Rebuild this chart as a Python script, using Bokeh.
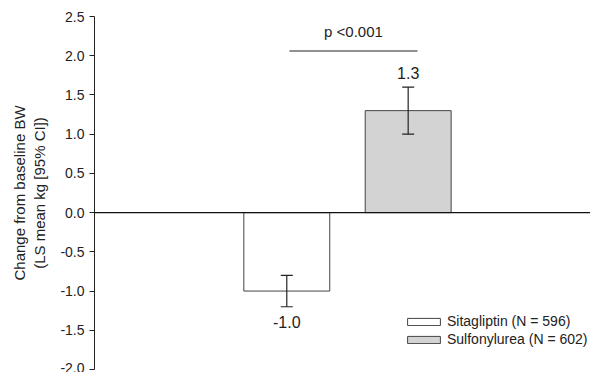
from bokeh.plotting import figure
from bokeh.models import (ColumnDataSource, Span, Whisker, TeeHead, FixedTicker,
                          PrintfTickFormatter, Legend, LegendItem, Range1d)
from bokeh.core.properties import value
from bokeh.embed import file_html
from bokeh.resources import INLINE

# ---- data ----
groups = ["Sitagliptin (N = 596)", "Sulfonylurea (N = 602)"]
group_x = [1, 2]
means = [-1.0, 1.3]
ci_lower = [-1.2, 1.0]
ci_upper = [-0.8, 1.6]
mean_labels = ["-1.0", "1.3"]
label_y = [-1.40, 1.78]
fills = ["#ffffff", "#d3d3d3"]
y_ticks = [-2.0, -1.5, -1.0, -0.5, 0.0, 0.5, 1.0, 1.5, 2.0, 2.5]
y_title = "Change from baseline BW\n(LS mean kg [95% CI])"
p_text = "p <0.001"
p_line_x = [1.022, 2.077]
p_line_y = 2.06
p_text_y = 2.31

FONT = "Liberation Sans"
TXT = "#222222"

src = ColumnDataSource(dict(x=group_x, top=means, lo=ci_lower, hi=ci_upper,
                            fill=fills, lab=mean_labels, ly=label_y))

p = figure(width=590, height=372, output_backend="svg", toolbar_location=None,
           x_range=Range1d(-0.584, 3.502), y_range=Range1d(-2.0, 2.5),
           x_axis_location=None, min_border_left=94, min_border_right=0,
           min_border_top=16, min_border_bottom=3)
p.outline_line_color = None
p.grid.visible = False
p.background_fill_color = "white"
p.border_fill_color = "white"

bars = p.vbar(x="x", top="top", bottom=0, width=0.708, source=src,
              fill_color="fill", line_color="#444444", line_width=1)

p.add_layout(Span(location=0, dimension="width", line_color="#111111", line_width=1.2))

w = Whisker(base="x", lower="lo", upper="hi", source=src, line_color="#222222",
            line_width=1.2, level="overlay",
            upper_head=TeeHead(size=12, line_color="#222222", line_width=1.2),
            lower_head=TeeHead(size=12, line_color="#222222", line_width=1.2))
p.add_layout(w)

p.text(x="x", y="ly", text="lab", source=src, text_align="center",
       text_baseline="alphabetic", text_font=value(FONT), text_font_size="16px",
       text_color=TXT)

p.line(x=p_line_x, y=[p_line_y, p_line_y], line_color="#222222", line_width=1.2)
p.text(x=[sum(p_line_x) / 2], y=[p_text_y], text=[p_text], text_align="center",
       text_baseline="alphabetic", text_font=value(FONT), text_font_size="15px",
       text_color=TXT)

ax = p.yaxis[0]
ax.ticker = FixedTicker(ticks=y_ticks)
ax.formatter = PrintfTickFormatter(format="%.1f")
ax.minor_tick_line_color = None
ax.major_tick_in = 0
ax.major_tick_out = 5
ax.major_label_standoff = 5
ax.axis_line_color = "#222222"
ax.major_tick_line_color = "#222222"
ax.major_label_text_font = FONT
ax.major_label_text_font_size = "14px"
ax.major_label_text_color = TXT
ax.axis_label = y_title
ax.axis_label_text_font = FONT
ax.axis_label_text_font_size = "15px"
ax.axis_label_text_font_style = "normal"
ax.axis_label_text_color = TXT
ax.axis_label_standoff = 9

items = [LegendItem(label=groups[i], renderers=[bars], index=i) for i in range(2)]
legend = Legend(items=items, location=(309, 21), orientation="vertical",
                glyph_width=41, glyph_height=9, label_standoff=3, label_height=18,
                spacing=0, padding=0, margin=0, border_line_color=None,
                background_fill_alpha=0, label_text_font=FONT,
                label_text_font_size="14px", label_text_color=TXT)
p.add_layout(legend)

open("out.html", "w").write(file_html(p, INLINE))
